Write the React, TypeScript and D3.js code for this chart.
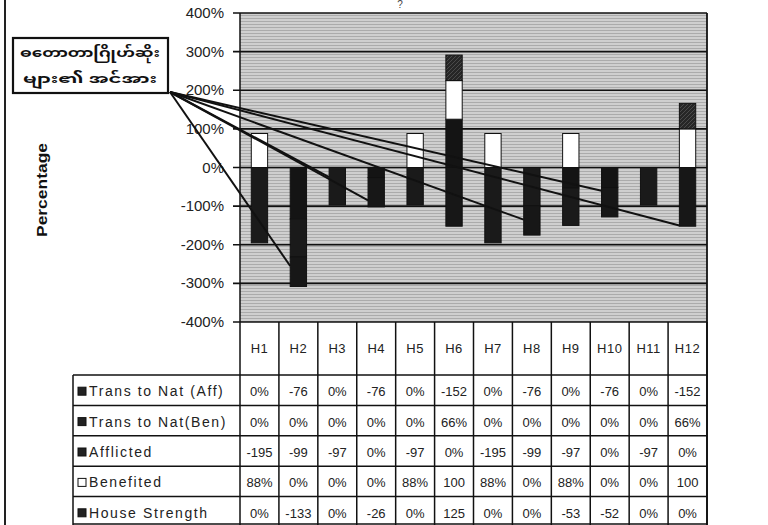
import React from 'react';
import * as d3 from 'd3';

const categories = ['H1', 'H2', 'H3', 'H4', 'H5', 'H6', 'H7', 'H8', 'H9', 'H10', 'H11', 'H12'];
const transAff = [0, -76, 0, -76, 0, -152, 0, -76, 0, -76, 0, -152];
const transBen = [0, 0, 0, 0, 0, 66, 0, 0, 0, 0, 0, 66];
const afflicted = [-195, -99, -97, 0, -97, 0, -195, -99, -97, 0, -97, 0];
const benefited = [88, 0, 0, 0, 88, 100, 88, 0, 88, 0, 0, 100];
const houseStrength = [0, -133, 0, -26, 0, 125, 0, 0, -53, -52, 0, 0];

const seriesKeys = ['house', 'benefited', 'afflicted', 'transBen', 'transAff'];
const seriesNames = ['House Strength', 'Benefited', 'Afflicted', 'Trans to Nat(Ben)', 'Trans to Nat (Aff)'];
const tableOrder = ['transAff', 'transBen', 'afflicted', 'benefited', 'house'];

const yTicks = [-400, -300, -200, -100, 0, 100, 200, 300, 400];
const calloutLines = ['ဓတောတာဂြိုဟ်ဆိုး', 'များ၏ အင်အား'];
const calloutWidths = [140, 134];
const calloutTargetCats = ['H2', 'H3', 'H4', 'H8', 'H10', 'H12'];
const calloutTargetVals = [-255, -25, -85, -135, -60, -150];

const fills: Record<string, string> = {
  house: '#141414',
  benefited: '#ffffff',
  afflicted: '#1a1a1a',
  transBen: 'url(#hatch)',
  transAff: '#171717',
};

const fmt = (v: number) => (v === 0 ? '0%' : v < 0 || Math.abs(v) >= 100 ? String(v) : `${v}%`);

export default function App() {
  const W = 768, H = 525;
  const plotL = 240, plotR = 707, plotT = 13, plotB = 322;
  const x = d3.scaleBand<string>().domain(categories).range([plotL, plotR]);
  const y = d3.scaleLinear().domain([-400, 400]).range([plotB, plotT]);
  const bw = x.bandwidth() * 0.42;

  const values: Record<string, number[]> = {
    house: houseStrength, benefited, afflicted, transBen, transAff,
  };
  const data = categories.map((c, i) => {
    const o: any = { cat: c };
    seriesKeys.forEach(k => (o[k] = values[k][i]));
    return o;
  });
  const stacked = d3.stack<any>().keys(seriesKeys).offset(d3.stackOffsetDiverging)(data);

  const rowY = d3.scaleBand<string>().domain(tableOrder).range([375, 527]);
  const headerMid = 348;
  const legendL = 73;
  const anchor = { x: 170, y: 92 };
  const font = "'Liberation Sans', Arial, sans-serif";

  return (
    <svg width={W} height={H} style={{ position: 'absolute', left: 0, top: 0, background: '#fff' }}>
      <defs>
        <pattern id="scan" width="5" height="3" patternUnits="userSpaceOnUse">
          <rect width="5" height="3" fill="#cfcfcf" />
          <rect width="5" height="1" fill="#ababab" />
        </pattern>
        <pattern id="hatch" width="4" height="4" patternUnits="userSpaceOnUse">
          <rect width="4" height="4" fill="#262626" />
          <path d="M0,4 L4,0" stroke="#4a4a4a" strokeWidth="1" />
        </pattern>
      </defs>
      {/* outer border left */}
      <line x1={5} x2={5} y1={0} y2={H} stroke="#222" strokeWidth={2} />

      {/* plot area */}
      <rect x={plotL} y={plotT} width={plotR - plotL} height={plotB - plotT} fill="url(#scan)" />
      {yTicks.map(t => (
        <g key={t}>
          <line x1={plotL - 7} x2={plotR} y1={y(t)} y2={y(t)} stroke="#111" strokeWidth={1.6} />
          <text x={224} y={y(t) + 5} textAnchor="end" fontFamily={font} fontSize={15} fill="#222">
            {`${t}%`}
          </text>
        </g>
      ))}
      <line x1={plotL} x2={plotL} y1={plotT} y2={plotB} stroke="#111" strokeWidth={1.5} />
      <line x1={plotR} x2={plotR} y1={plotT} y2={H} stroke="#111" strokeWidth={1.8} />

      {/* bars */}
      {stacked.map(s => (
        <g key={s.key}>
          {s.map((d, i) => {
            if (d[0] === d[1]) return null;
            const cat = categories[i];
            const x0 = (x(cat) as number) + (x.bandwidth() - bw) / 2;
            return (
              <rect key={i} x={x0} y={y(Math.max(d[0], d[1]))} width={bw}
                height={Math.abs(y(d[0]) - y(d[1]))} fill={fills[s.key]} stroke="#111" strokeWidth={1} />
            );
          })}
        </g>
      ))}

      {/* axis title */}
      <text transform={`translate(47,190) rotate(-90)`} textAnchor="middle" fontFamily={font}
        fontWeight="bold" fontSize={15} textLength={94} lengthAdjust="spacingAndGlyphs" fill="#111">
        Percentage
      </text>

      {/* title remnant */}
      <text x={400} y={8} textAnchor="middle" fontFamily={font} fontSize={10} fill="#444">?</text>

      {/* callout leader lines */}
      {calloutTargetCats.map((c, i) => (
        <line key={i} x1={anchor.x} y1={anchor.y} x2={(x(c) as number) + x.bandwidth() / 2 - bw / 2}
          y2={y(calloutTargetVals[i])} stroke="#111" strokeWidth={2} />
      ))}
      <rect x={13} y={38} width={155} height={55} fill="#fff" stroke="#111" strokeWidth={2.2} />
      {calloutLines.map((l, i) => (
        <text key={i} x={90} y={57 + i * 26} textAnchor="middle"
          fontFamily="'Noto Sans Myanmar', 'Padauk', 'Myanmar Text', sans-serif"
          fontWeight="bold" fontSize={13} textLength={calloutWidths[i]} lengthAdjust="spacingAndGlyphs"
          fill="#111">{l}</text>
      ))}

      {/* data table */}
      {categories.map((c, i) => (
        <text key={c} x={(x(c) as number) + x.bandwidth() / 2} y={headerMid + 5} textAnchor="middle"
          fontFamily={font} fontSize={13} fill="#222" letterSpacing={0.5}>{c}</text>
      ))}
      {[...categories.map(c => x(c) as number), plotR].map((xx, i) => (
        <line key={i} x1={xx} x2={xx} y1={plotB} y2={H} stroke="#111" strokeWidth={1.5} />
      ))}
      <line x1={legendL} x2={legendL} y1={375} y2={H} stroke="#111" strokeWidth={1.5} />
      {[...tableOrder.map(k => rowY(k) as number), 524].map((yy, i) => (
        <line key={i} x1={legendL} x2={plotR} y1={yy} y2={yy} stroke="#111" strokeWidth={1.5} />
      ))}
      {tableOrder.map(k => {
        const idx = seriesKeys.indexOf(k);
        const ry = (rowY(k) as number) + rowY.bandwidth() / 2;
        return (
          <g key={k}>
            <rect x={78} y={ry - 3} width={8} height={8} fill={k === 'benefited' ? '#fff' : '#222'}
              stroke="#111" strokeWidth={1} />
            <text x={89} y={ry + 6} fontFamily={font} fontSize={14} letterSpacing={1.6} fill="#222">
              {seriesNames[idx]}
            </text>
            {categories.map((c, i) => (
              <text key={c} x={(x(c) as number) + x.bandwidth() / 2} y={ry + 6} textAnchor="middle"
                fontFamily={font} fontSize={13} fill="#222">{fmt(values[k][i])}</text>
            ))}
          </g>
        );
      })}
    </svg>
  );
}
